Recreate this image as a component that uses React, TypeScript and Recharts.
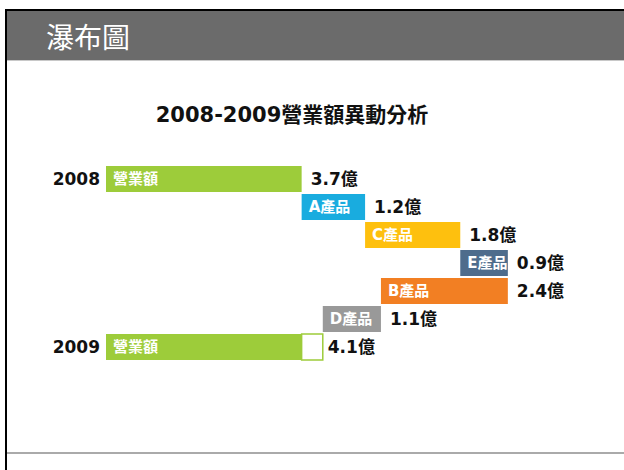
import React from 'react';
import { BarChart, Bar, XAxis, YAxis, Cell, LabelList } from 'recharts';

// waterfall rows, top to bottom
const categories = ['2008', 'A產品', 'C產品', 'E產品', 'B產品', 'D產品', '2009'];
const barNames = ['營業額', 'A產品', 'C產品', 'E產品', 'B產品', 'D產品', '營業額'];
const changes = [3.7, 1.2, 1.8, 0.9, -2.4, -1.1, 4.1];
const isTotal = [true, false, false, false, false, false, true];
const yearLabels = ['2008', '', '', '', '', '', '2009'];
const COLORS = ['#9dcc3a', '#19acdf', '#fec00e', '#4e6c8c', '#f27f23', '#999999', '#9dcc3a'];

const FONT = '"DejaVu Sans", "Noto Sans CJK TC", sans-serif';

// base = invisible offset, size = coloured part, extra = growth shown as outlined box
let running = 0;
const rows = categories.map((row, i) => {
  const v = changes[i];
  let base = 0;
  let size = 0;
  let extra = 0;
  if (isTotal[i]) {
    if (i === 0) {
      size = v;
    } else {
      size = Math.min(changes[0], v);
      extra = +(v - size).toFixed(2);
    }
    running = v;
  } else if (v >= 0) {
    base = running;
    size = v;
    running += v;
  } else {
    running += v;
    base = running;
    size = -v;
  }
  const label = `${Math.abs(v).toFixed(1)}億`;
  return {
    row,
    name: barNames[i],
    base,
    size,
    extra,
    labelMain: extra > 0 ? '' : label,
    labelExtra: extra > 0 ? label : '',
  };
});

export default function App() {
  return (
    <div
      style={{
        position: 'absolute',
        left: 0,
        top: 0,
        width: 624,
        height: 470,
        overflow: 'hidden',
        background: '#fff',
        fontFamily: FONT,
      }}
    >
      {/* frame */}
      <div
        style={{
          position: 'absolute',
          left: 5,
          top: 9,
          width: 640,
          height: 480,
          borderLeft: '2px solid #000',
          borderTop: '2px solid #000',
        }}
      />
      {/* header band */}
      <div
        style={{
          position: 'absolute',
          left: 7,
          top: 11,
          width: 620,
          height: 50,
          background: '#6b6b6b',
          borderBottom: '1px solid #c8c8c8',
          color: '#fff',
          fontSize: 28,
          lineHeight: '50px',
          paddingLeft: 39,
          boxSizing: 'border-box',
          fontFamily: '"Noto Sans CJK TC", sans-serif',
        }}
      >
        瀑布圖
      </div>
      {/* bottom rule */}
      <div
        style={{
          position: 'absolute',
          left: 7,
          top: 452,
          width: 620,
          height: 2,
          background: '#aaaaaa',
        }}
      />
      <div
        style={{
          position: 'absolute',
          left: 0,
          top: 98,
          width: 584,
          textAlign: 'center',
          fontSize: 21,
          fontWeight: 'bold',
          color: '#111',
        }}
      >
        2008-2009營業額異動分析
      </div>

      <div style={{ position: 'absolute', left: 0, top: 0 }}>
        <BarChart
          width={624}
          height={470}
          data={rows}
          layout="vertical"
          margin={{ top: 165, right: 95, bottom: 109, left: 0 }}
          barCategoryGap={1}
        >
          <XAxis type="number" domain={[0, 8]} hide />
          <YAxis
            type="category"
            dataKey="row"
            width={106}
            axisLine={false}
            tickLine={false}
            tickSize={0}
            tickMargin={6}
            tickFormatter={(_v: string, i: number) => yearLabels[i]}
            tick={{ fill: '#111', fontSize: 17, fontWeight: 'bold', fontFamily: FONT }}
          />
          <Bar dataKey="base" stackId="w" fill="none" isAnimationActive={false} />
          <Bar dataKey="size" stackId="w" isAnimationActive={false}>
            {rows.map((r, i) => (
              <Cell key={`c-${i}`} fill={COLORS[i]} />
            ))}
            <LabelList
              dataKey="name"
              position="insideLeft"
              offset={7}
              fill="#fff"
              fontSize={15}
              fontWeight="bold"
              fontFamily={FONT}
            />
            <LabelList
              dataKey="labelMain"
              position="right"
              offset={9}
              fill="#111"
              fontSize={17}
              fontWeight="bold"
              fontFamily={FONT}
            />
          </Bar>
          <Bar
            dataKey="extra"
            stackId="w"
            fill="#ffffff"
            stroke="#9dcc3a"
            strokeWidth={1.5}
            isAnimationActive={false}
          >
            <LabelList
              dataKey="labelExtra"
              position="right"
              offset={5}
              fill="#111"
              fontSize={17}
              fontWeight="bold"
              fontFamily={FONT}
            />
          </Bar>
        </BarChart>
      </div>
    </div>
  );
}
